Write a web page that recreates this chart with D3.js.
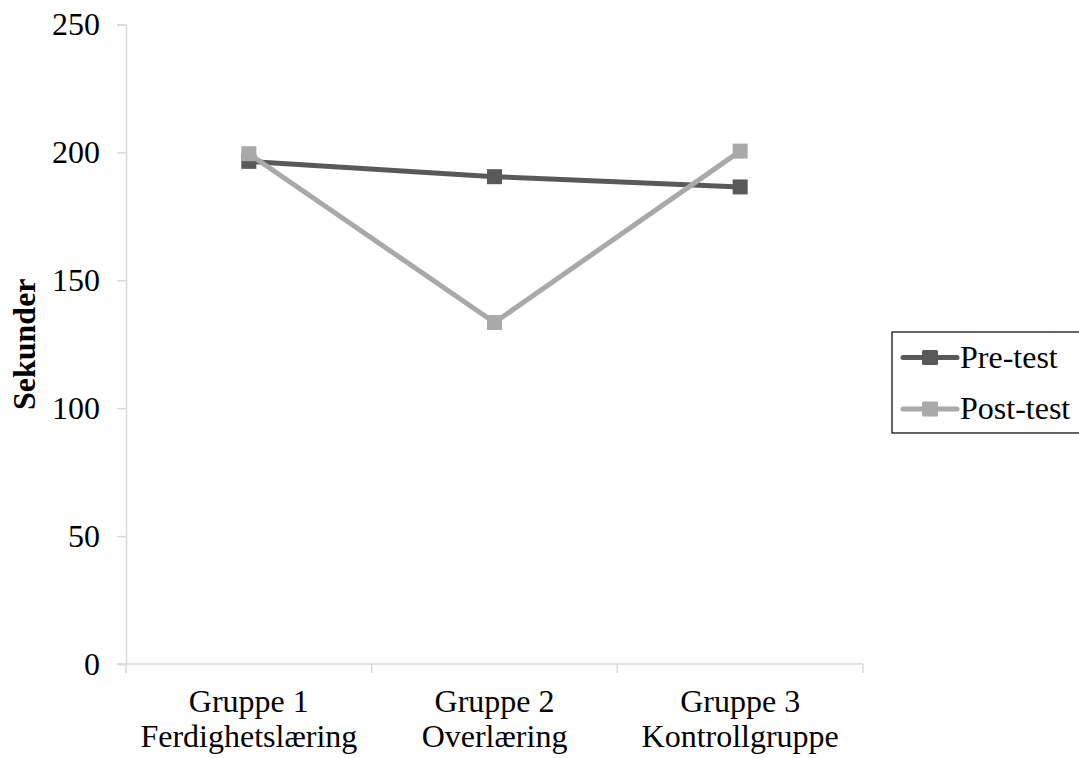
<!DOCTYPE html>
<html>
<head>
<meta charset="utf-8">
<script src="https://cdn.jsdelivr.net/npm/d3@7/dist/d3.min.js"></script>
<style>
  html, body { margin: 0; padding: 0; background: #fff; }
  svg { display: block; font-family: "Liberation Serif", "Times New Roman", serif; }
</style>
</head>
<body>
<svg id="chart" width="1079" height="758"></svg>
<script>
// Time per group, before and after training
const groupLine1 = ["Gruppe 1", "Gruppe 2", "Gruppe 3"];
const groupLine2 = ["Ferdighetslæring", "Overlæring", "Kontrollgruppe"];
const preTest = [196.5, 190.5, 186.5];
const postTest = [199.5, 133.5, 200.5];
const yTicks = [0, 50, 100, 150, 200, 250];
const seriesNames = ["Pre-test", "Post-test"];
const seriesColors = ["#595959", "#a9a9a9"];

const FONT = "'Liberation Serif', 'Times New Roman', serif";
const FS = 32;

const svg = d3.select("#chart");
const plot = { left: 126, right: 863, top: 24.5, bottom: 664 };

const x = d3.scaleBand().domain(groupLine1).range([plot.left, plot.right]).padding(0);
const y = d3.scaleLinear().domain([0, 250]).range([plot.bottom, plot.top]);

// Y axis
const yAxis = svg.append("g")
  .attr("transform", `translate(${plot.left},0)`)
  .call(d3.axisLeft(y).tickValues(yTicks).tickSize(9).tickPadding(17));
yAxis.attr("font-family", FONT).attr("font-size", FS);
yAxis.select(".domain").attr("stroke", "#d9d9d9").attr("stroke-width", 1.5);
yAxis.selectAll(".tick line").attr("stroke", "#d9d9d9").attr("stroke-width", 1.5);
yAxis.selectAll(".tick text").attr("fill", "#000").attr("dy", "0.32em");

// X axis with ticks at category boundaries
const boundaries = groupLine1.map(d => x(d)).concat([plot.right]);
const xAxisG = svg.append("g").attr("font-family", FONT).attr("font-size", FS);
xAxisG.append("line")
  .attr("x1", plot.left - 9).attr("x2", plot.right)
  .attr("y1", plot.bottom).attr("y2", plot.bottom)
  .attr("stroke", "#d9d9d9").attr("stroke-width", 1.5);
xAxisG.selectAll("line.tick").data(boundaries).join("line")
  .attr("class", "tick")
  .attr("x1", d => d).attr("x2", d => d)
  .attr("y1", plot.bottom).attr("y2", plot.bottom + 9)
  .attr("stroke", "#d9d9d9").attr("stroke-width", 1.5);

const labels = xAxisG.selectAll("text").data(groupLine1).join("text")
  .attr("text-anchor", "middle")
  .attr("fill", "#000");
labels.append("tspan").attr("x", d => x(d) + x.bandwidth() / 2).attr("y", 712).text(d => d);
labels.append("tspan").attr("x", d => x(d) + x.bandwidth() / 2).attr("y", 747).text((d, i) => groupLine2[i]);

// Y axis title
svg.append("text")
  .attr("transform", `translate(35,${(plot.top + plot.bottom) / 2}) rotate(-90)`)
  .attr("text-anchor", "middle")
  .attr("font-family", FONT)
  .attr("font-size", FS)
  .attr("font-weight", "bold")
  .text("Sekunder");

// Series lines and square markers
const series = [preTest, postTest];
const line = d3.line().x((d, i) => x(groupLine1[i]) + x.bandwidth() / 2).y(d => y(d));
const ms = 15;
series.forEach((vals, s) => {
  svg.append("path")
    .datum(vals)
    .attr("d", line)
    .attr("fill", "none")
    .attr("stroke", seriesColors[s])
    .attr("stroke-width", 5)
    .attr("stroke-linejoin", "round");
  svg.append("g").selectAll("rect").data(vals).join("rect")
    .attr("x", (d, i) => x(groupLine1[i]) + x.bandwidth() / 2 - ms / 2)
    .attr("y", d => y(d) - ms / 2)
    .attr("width", ms).attr("height", ms)
    .attr("fill", seriesColors[s]);
});

// Legend
const legend = svg.append("g").attr("font-family", FONT).attr("font-size", FS);
legend.append("rect")
  .attr("x", 892).attr("y", 332).attr("width", 200).attr("height", 101)
  .attr("fill", "#fff").attr("stroke", "#000").attr("stroke-width", 1.2);
seriesNames.forEach((name, i) => {
  const ly = 357.5 + i * 51.5;
  legend.append("line")
    .attr("x1", 903).attr("x2", 957).attr("y1", ly).attr("y2", ly)
    .attr("stroke", seriesColors[i]).attr("stroke-width", 5).attr("stroke-linecap", "round");
  legend.append("rect")
    .attr("x", 922).attr("y", ly - 7.5).attr("width", 16).attr("height", 15)
    .attr("rx", 1.5)
    .attr("fill", seriesColors[i]);
  legend.append("text")
    .attr("x", 960).attr("y", ly + 10)
    .text(name);
});
</script>
</body>
</html>
